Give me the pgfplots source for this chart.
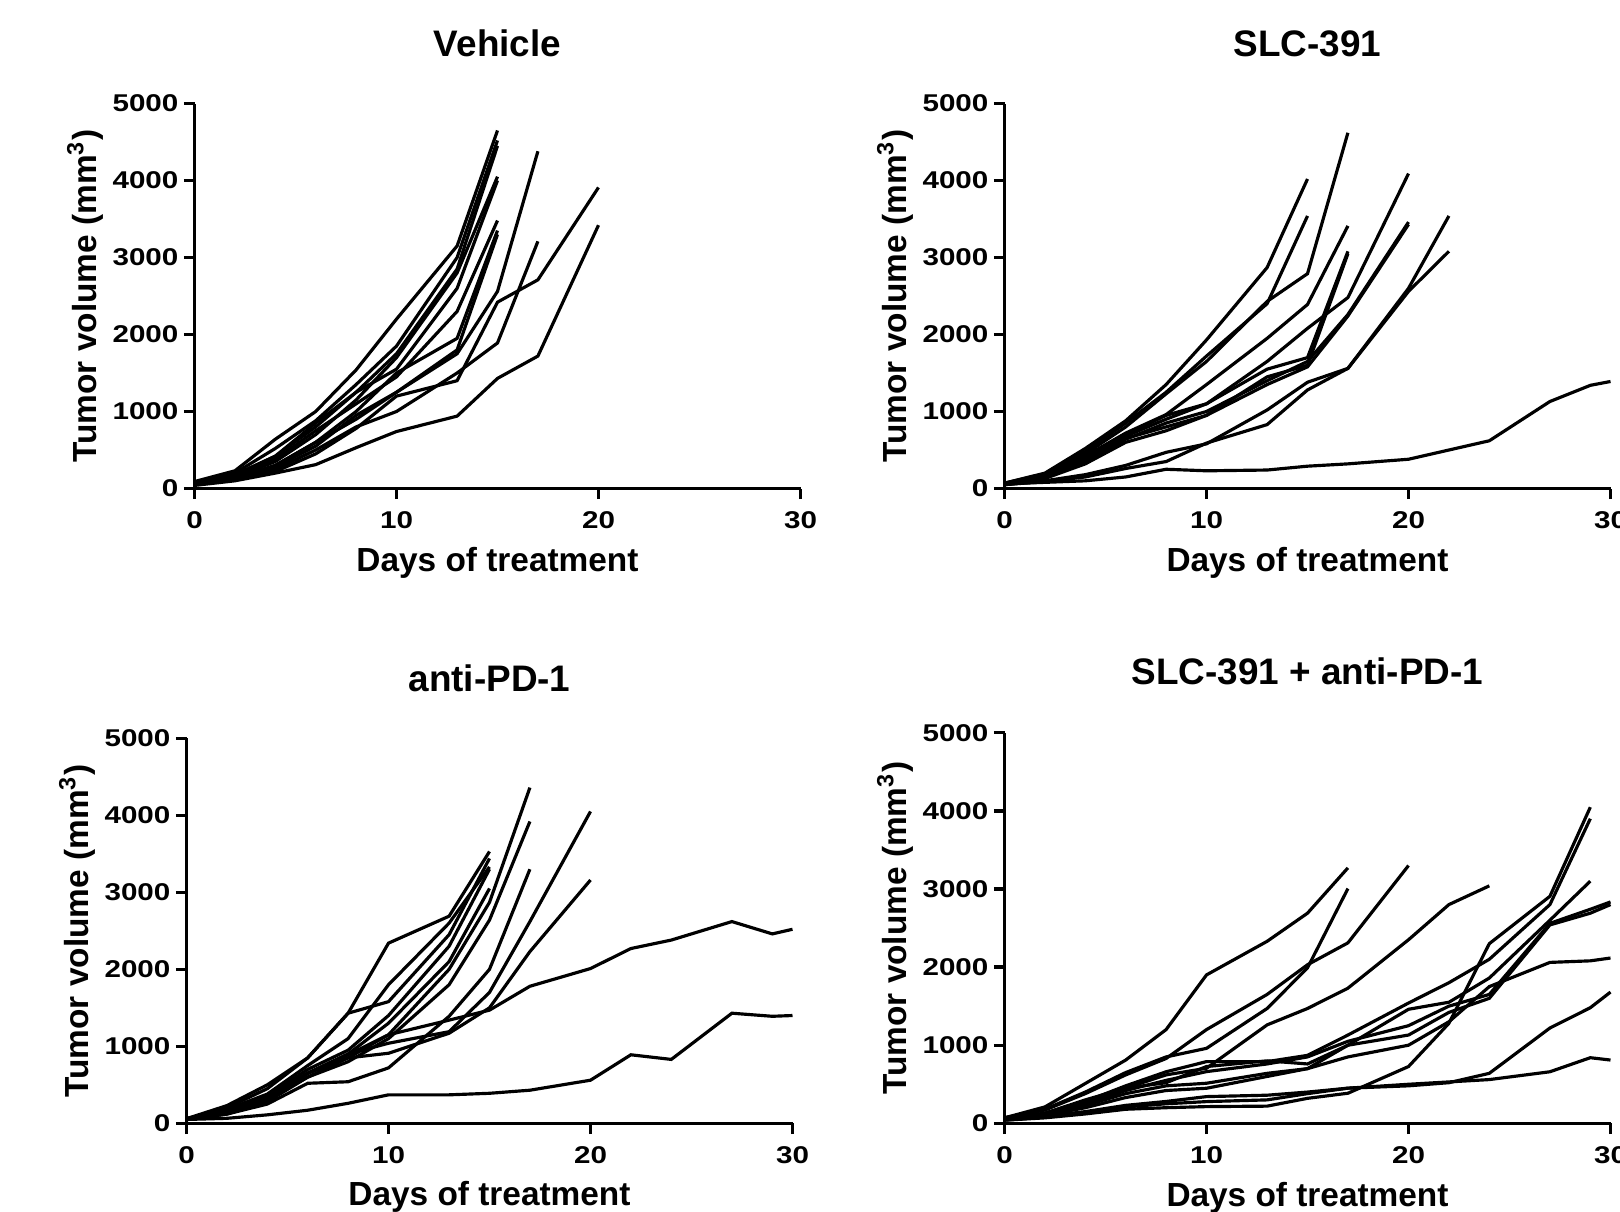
\documentclass[border=0pt]{standalone}
\usepackage{fontspec}
\setmainfont{Liberation Sans}
\newfontfamily\tickfont{Liberation Sans}[FakeStretch=1.22]
\usepackage{pgfplots}
\pgfplotsset{compat=1.18}

\pgfplotsset{
  panel/.style={
    scale only axis, width=6.06cm, height=3.85cm,
    xmin=0, xmax=30, ymin=0, ymax=5000,
    axis lines*=left,
    axis line style={line width=0.95pt},
    tick align=outside, major tick length=1.07mm,
    tick style={line width=0.95pt, black},
    xtick={0,10,20,30}, ytick={0,1000,...,5000},
    tick label style={font=\tickfont\bfseries\fontsize{6.9}{8}\selectfont},
    yticklabel style={xshift=0.7mm},
    /pgf/number format/assume math mode=true,
    /pgf/number format/set thousands separator={},
    scaled y ticks=false,
    xlabel={Days of treatment},
    ylabel={Tumor volume (mm\textsuperscript{3})},
    every axis x label/.style={at={(axis description cs:0.5,-0.192)}, anchor=center,
      font=\bfseries\fontsize{9.5}{11}\selectfont},
    every axis y label/.style={at={(axis description cs:-0.18,0.5)}, anchor=center, rotate=90,
      font=\bfseries\fontsize{9.5}{11}\selectfont},
    every axis title/.style={at={(axis description cs:0.5,1.156)}, anchor=center,
      font=\bfseries\fontsize{10.5}{12}\selectfont},
    cycle list={black,solid,line width=0.9pt,mark=none\\},
    clip=false,
  }
}

\begin{document}
\begin{tikzpicture}
\path[use as bounding box] (0,0) rectangle (16.2,12.11);

% Vehicle
\begin{axis}[panel, at={(1.945cm,7.225cm)}, anchor=south west, title={Vehicle}]
\addplot coordinates {(0,90)(2,230)(4,640)(6,1000)(8,1540)(10,2200)(13,3150)(15,4650)};
\addplot coordinates {(0,80)(2,200)(4,520)(6,880)(8,1350)(10,1850)(13,3000)(15,4520)};
\addplot coordinates {(0,70)(2,170)(4,420)(6,800)(8,1250)(10,1750)(13,2850)(15,4450)};
\addplot coordinates {(0,60)(2,150)(4,350)(6,700)(8,1150)(10,1700)(13,2800)(15,4050)};
\addplot coordinates {(0,70)(2,180)(4,420)(6,850)(8,1250)(10,1550)(13,2600)(15,4000)};
\addplot coordinates {(0,60)(2,160)(4,380)(6,750)(8,1100)(10,1450)(13,2300)(15,3480)};
\addplot coordinates {(0,50)(2,140)(4,300)(6,600)(8,1000)(10,1500)(13,1950)(15,3350)};
\addplot coordinates {(0,60)(2,130)(4,280)(6,550)(8,950)(10,1250)(13,1800)(15,3300)};
\addplot coordinates {(0,60)(2,130)(4,300)(6,600)(8,900)(10,1250)(13,1750)(15,2560)(17,4380)};
\addplot coordinates {(0,50)(2,120)(4,250)(6,500)(8,800)(10,1000)(13,1500)(15,1890)(17,3210)};
\addplot coordinates {(0,50)(2,110)(4,220)(6,450)(8,780)(10,1200)(13,1400)(15,2420)(17,2710)(20,3910)};
\addplot coordinates {(0,40)(2,100)(4,200)(6,310)(8,530)(10,740)(13,940)(15,1430)(17,1720)(20,3420)};
\end{axis}

% SLC-391
\begin{axis}[panel, at={(10.045cm,7.225cm)}, anchor=south west, title={SLC-391}]
\addplot coordinates {(0,70)(2,200)(4,520)(6,880)(8,1350)(10,1930)(13,2870)(15,4020)};
\addplot coordinates {(0,70)(2,190)(4,480)(6,850)(8,1250)(10,1720)(13,2400)(15,3540)};
\addplot coordinates {(0,60)(2,170)(4,450)(6,800)(8,1230)(10,1650)(13,2430)(15,2790)(17,4620)};
\addplot coordinates {(0,60)(2,160)(4,420)(6,720)(8,960)(10,1350)(13,1950)(15,2390)(17,3410)};
\addplot coordinates {(0,60)(2,150)(4,390)(6,700)(8,950)(10,1100)(13,1550)(15,1700)(17,3080)};
\addplot coordinates {(0,50)(2,140)(4,350)(6,650)(8,800)(10,950)(13,1450)(15,1600)(17,3050)};
\addplot coordinates {(0,60)(2,150)(4,380)(6,680)(8,900)(10,1100)(13,1650)(15,2080)(17,2480)(20,4090)};
\addplot coordinates {(0,50)(2,140)(4,340)(6,640)(8,850)(10,1000)(13,1400)(15,1650)(17,2260)(20,3460)};
\addplot coordinates {(0,50)(2,130)(4,320)(6,600)(8,750)(10,950)(13,1350)(15,1580)(17,2240)(20,3430)};
\addplot coordinates {(0,50)(2,100)(4,180)(6,300)(8,470)(10,580)(13,1020)(15,1380)(17,1560)(20,2600)(22,3540)};
\addplot coordinates {(0,50)(2,90)(4,150)(6,260)(8,350)(10,590)(13,830)(15,1280)(17,1560)(20,2560)(22,3080)};
\addplot coordinates {(0,60)(2,80)(4,100)(6,150)(8,250)(10,230)(13,240)(15,290)(17,320)(20,380)(22,500)(24,620)(27,1130)(29,1340)(30,1390)};
\end{axis}

% anti-PD-1
\begin{axis}[panel, at={(1.865cm,0.877cm)}, anchor=south west, title={anti-PD-1}]
\addplot coordinates {(0,60)(2,230)(4,500)(6,850)(8,1430)(10,2340)(13,2690)(15,3530)};
\addplot coordinates {(0,60)(2,200)(4,450)(6,850)(8,1430)(10,1580)(13,2450)(15,3440)};
\addplot coordinates {(0,60)(2,180)(4,380)(6,750)(8,1100)(10,1800)(13,2600)(15,3330)};
\addplot coordinates {(0,50)(2,150)(4,350)(6,700)(8,950)(10,1400)(13,2300)(15,3300)};
\addplot coordinates {(0,50)(2,150)(4,320)(6,650)(8,900)(10,1300)(13,2100)(15,3050)};
\addplot coordinates {(0,50)(2,140)(4,330)(6,650)(8,850)(10,1150)(13,2000)(15,2870)(17,4360)};
\addplot coordinates {(0,50)(2,130)(4,300)(6,600)(8,800)(10,1100)(13,1800)(15,2640)(17,3920)};
\addplot coordinates {(0,50)(2,120)(4,250)(6,520)(8,540)(10,720)(13,1390)(15,2000)(17,3300)};
\addplot coordinates {(0,50)(2,130)(4,300)(6,650)(8,900)(10,1040)(13,1190)(15,1700)(17,2620)(20,4050)};
\addplot coordinates {(0,50)(2,120)(4,280)(6,600)(8,850)(10,910)(13,1170)(15,1500)(17,2230)(20,3160)};
\addplot coordinates {(0,50)(2,130)(4,350)(6,650)(8,890)(10,1150)(13,1340)(15,1470)(17,1780)(20,2010)(22,2270)(24,2380)(27,2620)(29,2460)(30,2520)};
\addplot coordinates {(0,50)(2,65)(4,110)(6,170)(8,260)(10,370)(13,370)(15,390)(17,430)(20,560)(22,890)(24,830)(27,1430)(29,1390)(30,1400)};
\end{axis}

% SLC-391 + anti-PD-1
\begin{axis}[panel, height=3.906cm, at={(10.045cm,0.877cm)}, anchor=south west, title={SLC-391 + anti-PD-1}]
\addplot coordinates {(0,70)(2,210)(4,510)(6,810)(8,1200)(10,1900)(13,2330)(15,2690)(17,3270)};
\addplot coordinates {(0,70)(2,180)(4,400)(6,650)(8,850)(10,960)(13,1470)(15,1990)(17,3005)};
\addplot coordinates {(0,70)(2,170)(4,380)(6,620)(8,830)(10,1200)(13,1650)(15,2030)(17,2310)(20,3300)};
\addplot coordinates {(0,60)(2,130)(4,280)(6,450)(8,620)(10,705)(13,1260)(15,1470)(17,1730)(20,2350)(22,2800)(24,3040)};
\addplot coordinates {(0,40)(2,70)(4,120)(6,180)(8,200)(10,214)(13,220)(15,320)(17,385)(20,727)(22,1280)(24,2300)(27,2906)(29,4047)};
\addplot coordinates {(0,60)(2,120)(4,280)(6,480)(8,660)(10,790)(13,790)(15,870)(17,1130)(20,1540)(22,1800)(24,2100)(27,2800)(29,3900)};
\addplot coordinates {(0,60)(2,130)(4,300)(6,450)(8,520)(10,727)(13,800)(15,760)(17,1000)(20,1460)(22,1550)(24,1860)(27,2600)(29,3100)};
\addplot coordinates {(0,60)(2,120)(4,250)(6,420)(8,550)(10,662)(13,760)(15,850)(17,1050)(20,1250)(22,1500)(24,1650)(27,2560)(29,2740)(30,2834)};
\addplot coordinates {(0,50)(2,110)(4,230)(6,380)(8,480)(10,513)(13,640)(15,700)(17,1000)(20,1130)(22,1420)(24,1600)(27,2540)(29,2690)(30,2800)};
\addplot coordinates {(0,50)(2,100)(4,200)(6,330)(8,420)(10,449)(13,600)(15,700)(17,850)(20,1000)(22,1300)(24,1750)(27,2060)(29,2080)(30,2116)};
\addplot coordinates {(0,50)(2,90)(4,150)(6,230)(8,280)(10,342)(13,360)(15,400)(17,450)(20,480)(22,520)(24,640)(27,1220)(29,1480)(30,1680)};
\addplot coordinates {(0,40)(2,80)(4,140)(6,210)(8,250)(10,278)(13,300)(15,380)(17,450)(20,500)(22,530)(24,560)(27,660)(29,840)(30,810)};
\end{axis}
\end{tikzpicture}
\end{document}
